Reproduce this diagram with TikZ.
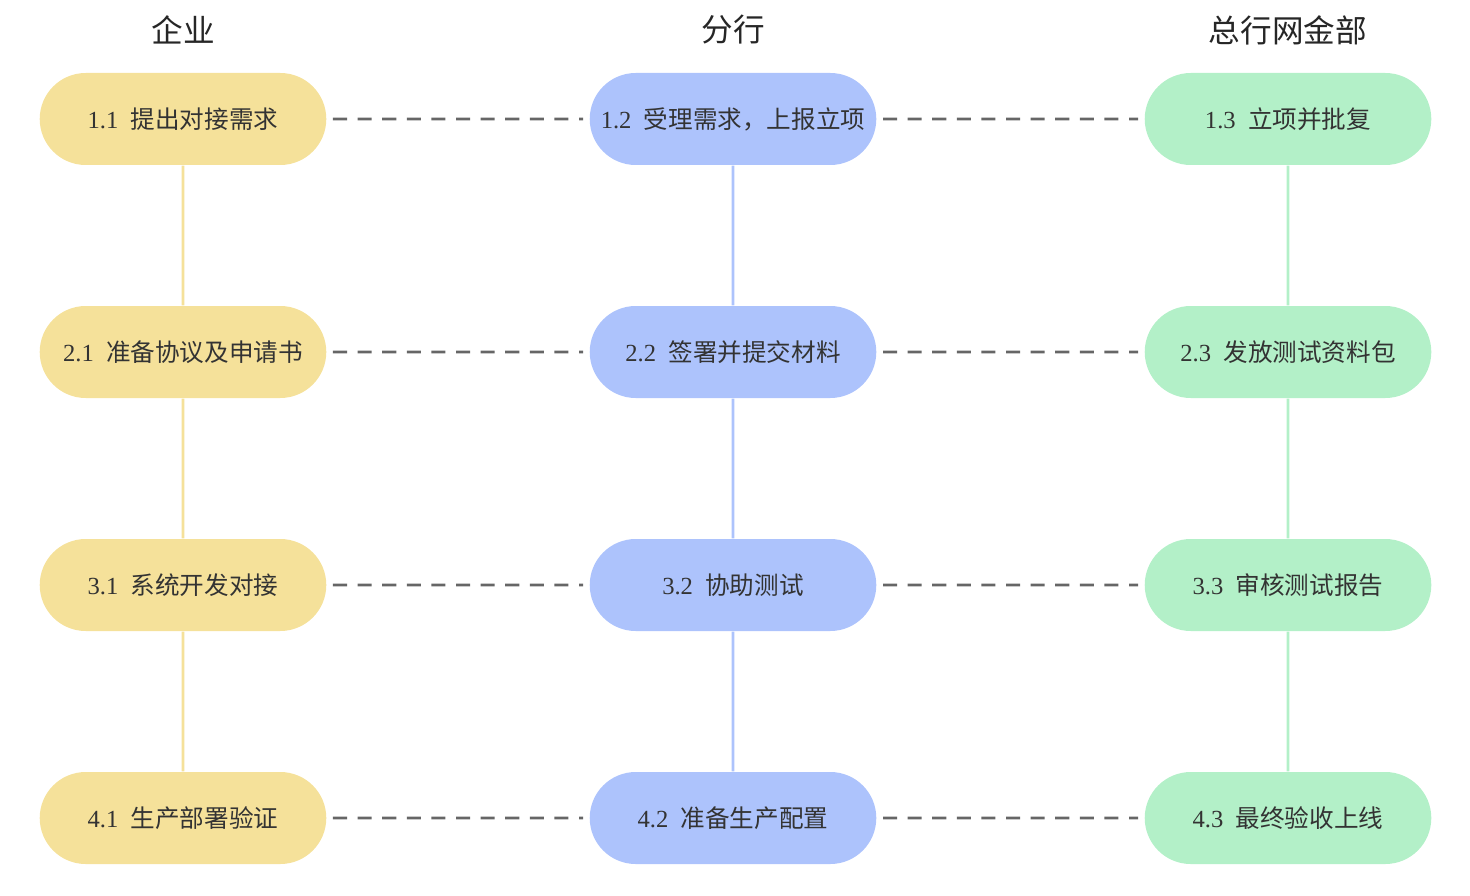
\documentclass[tikz,border=0pt]{standalone}
\usepackage{fontspec}
\setmainfont{Liberation Serif}
\newfontfamily\cjk{Noto Sans CJK SC}
\usetikzlibrary{shapes.misc,positioning}
\definecolor{qiye}{HTML}{F5E19A}
\definecolor{fenhang}{HTML}{ADC3FC}
\definecolor{zonghang}{HTML}{B3F0C8}
\definecolor{xuxian}{HTML}{666666}
\tikzset{
    % pill shaped step
    buzhou/.style={
           rounded rectangle,
           draw=none,
           minimum width=3.1cm,
           minimum height=0.92cm,
           font=\fontsize{7}{8}\selectfont,
           text=black!80},
    % header text
    biaoti/.style={font=\cjk\fontsize{9}{10}\selectfont, text=black!85},
    % dashed connector
    xu/.style={dashed, dash pattern=on 4pt off 3pt, thick, draw=xuxian,
           shorten <=0.06cm, shorten >=0.06cm},
    shu/.style={thick},
}
\newcommand{\bz}[2]{#1\hspace{0.5em}{\cjk #2}}
\begin{document}
\begin{tikzpicture}
\useasboundingbox (0,0) rectangle (14.70,-8.95);

% Spaltenkoepfe
\node[biaoti] (h1) at (1.83,-0.30) {企业};
\node[biaoti] (h2) at (7.33,-0.30) {分行};
\node[biaoti] (h3) at (12.88,-0.30) {总行网金部};

%企业
\node[buzhou, fill=qiye] (a1) at (1.83,-1.19) {\bz{1.1}{提出对接需求}};
\node[buzhou, fill=qiye] (a2) at (1.83,-3.52) {\bz{2.1}{准备协议及申请书}};
\node[buzhou, fill=qiye] (a3) at (1.83,-5.85) {\bz{3.1}{系统开发对接}};
\node[buzhou, fill=qiye] (a4) at (1.83,-8.18) {\bz{4.1}{生产部署验证}};

% 分行
\node[buzhou, fill=fenhang] (b1) at (7.33,-1.19) {\bz{1.2}{受理需求，上报立项}};
\node[buzhou, fill=fenhang] (b2) at (7.33,-3.52) {\bz{2.2}{签署并提交材料}};
\node[buzhou, fill=fenhang] (b3) at (7.33,-5.85) {\bz{3.2}{协助测试}};
\node[buzhou, fill=fenhang] (b4) at (7.33,-8.18) {\bz{4.2}{准备生产配置}};

% 总行网金部
\node[buzhou, fill=zonghang] (c1) at (12.88,-1.19) {\bz{1.3}{立项并批复}};
\node[buzhou, fill=zonghang] (c2) at (12.88,-3.52) {\bz{2.3}{发放测试资料包}};
\node[buzhou, fill=zonghang] (c3) at (12.88,-5.85) {\bz{3.3}{审核测试报告}};
\node[buzhou, fill=zonghang] (c4) at (12.88,-8.18) {\bz{4.3}{最终验收上线}};

% Linien
\foreach \i/\j in {1/2,2/3,3/4} {
  \draw[shu, qiye] (a\i) -- (a\j);
  \draw[shu, fenhang] (b\i) -- (b\j);
  \draw[shu, zonghang] (c\i) -- (c\j);
}
\foreach \i in {1,...,4} {
  \draw[xu] (a\i) -- (b\i);
  \draw[xu] (b\i) -- (c\i);
}
\end{tikzpicture}
\end{document}
